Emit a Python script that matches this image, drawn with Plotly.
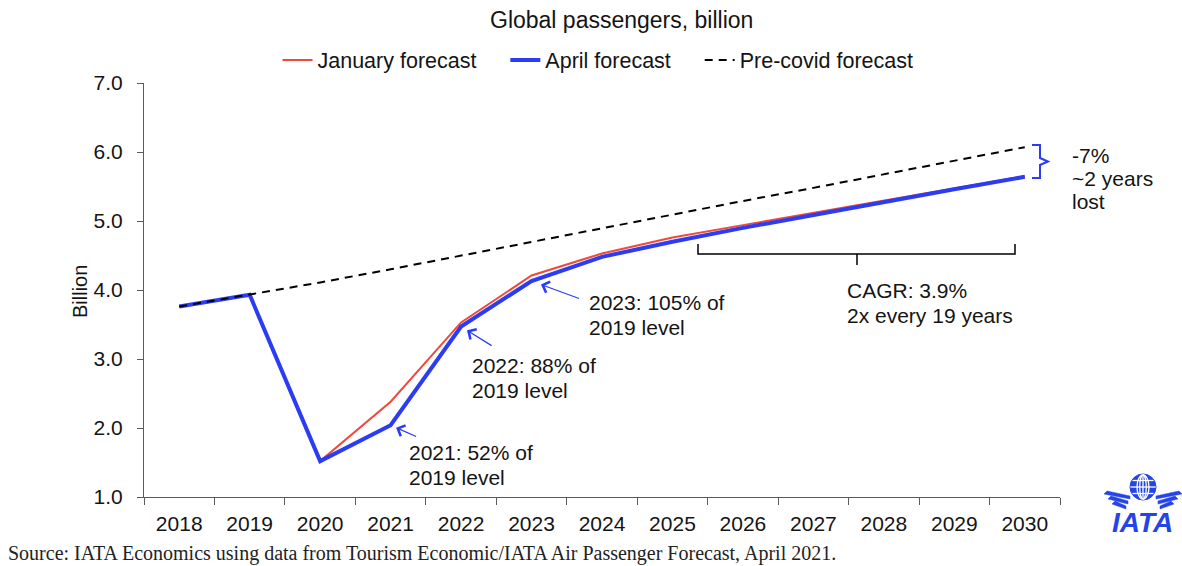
import plotly.graph_objects as go

# ---- data (billions of passengers) ----
years = [str(y) for y in range(2018, 2031)]
january_forecast = [3.76, 3.93, 1.52, 2.38, 3.53, 4.21, 4.53, 4.76, 4.94, 5.12, 5.30, 5.48, 5.65]
april_forecast = [3.76, 3.93, 1.52, 2.04, 3.47, 4.13, 4.48, 4.70, 4.90, 5.09, 5.27, 5.46, 5.64]
precovid_forecast = [3.76, 3.93, 4.11, 4.30, 4.50, 4.69, 4.89, 5.09, 5.29, 5.48, 5.68, 5.87, 6.07]

RED = "#F0483C"
BLUE = "#2B3CF2"
LOGO_BLUE = "#2444E8"
TXT = "#141414"
AX = "#5A5A5A"
FS = 21

W, H = 1182, 566
L, R, T, B = 144, 1060, 83, 497  # plot area in page pixels


def px(x):
    return (x - L) / (R - L)


def py(y):
    return (B - y) / (B - T)


PAD = "\u00a0" * 4  # extra room between legend entries

fig = go.Figure()
fig.add_trace(go.Scatter(x=years, y=january_forecast, name="January forecast" + PAD,
                         mode="lines", line=dict(color=RED, width=2)))
fig.add_trace(go.Scatter(x=years, y=april_forecast, name="April forecast" + PAD,
                         mode="lines", line=dict(color=BLUE, width=4)))
fig.add_trace(go.Scatter(x=years, y=precovid_forecast, name="Pre-covid forecast",
                         mode="lines", line=dict(color="black", width=2, dash="8px,6px")))

ann = []


def text_at(s, x, y, size=FS, anchor="left", **kw):
    ann.append(dict(text=s, xref="paper", yref="paper", x=px(x), y=py(y),
                    xanchor=anchor, yanchor="middle", showarrow=False,
                    font=dict(size=size, **kw.pop("font", {})), **kw))


# title and axis title
text_at("Global passengers, billion", 621, 20, size=23, anchor="center")
text_at("Billion", 80, 292, size=20, anchor="center", textangle=-90)

# callouts pointing at the April forecast line (x given as category index)
callouts = [
    (3, 27, 12, 6, ["2021: 52% of", "2019 level"], 407, [452, 477]),
    (4, 32, 20, 7, ["2022: 88% of", "2019 level"], 470, [365, 390]),
    (5, 49, 18, 10, ["2023: 105% of", "2019 level"], 587, [302, 327]),
]
for idx, axp, ayp, so, lines, tx, tys in callouts:
    ann.append(dict(x=idx, y=april_forecast[idx], xref="x", yref="y", text=" ",
                    font=dict(size=1), showarrow=True, ax=axp, ay=ayp, arrowhead=4,
                    arrowsize=1.9, arrowwidth=1.2, arrowcolor=BLUE, standoff=so))
    for s, ty in zip(lines, tys):
        text_at(s, tx, ty)

for s, ty in zip(["CAGR: 3.9%", "2x every 19 years"], [290, 315]):
    text_at(s, 845, ty)
for s, ty in zip(["-7%", "~2 years", "lost"], [155, 178, 201]):
    text_at(s, 1070, ty)

# source line
text_at("Source: IATA Economics using data from Tourism Economic/IATA Air Passenger Forecast, April 2021.",
        6, 553, size=20, font=dict(family="Liberation Serif, Times New Roman", color="#222"))

# logo lettering
text_at("<b><i>IATA</i></b>", 1142, 522, size=28, anchor="center",
        font=dict(family="Liberation Sans, Arial", color=LOGO_BLUE))


def path(points):
    return "M" + " L".join(f"{px(a):.5f},{py(b):.5f}" for a, b in points)


shapes = []
# CAGR brace
shapes.append(dict(type="path", xref="paper", yref="paper",
                   path=path([(698, 244), (698, 254), (857, 254), (857, 265), (857, 254),
                              (1015, 254), (1015, 244)]),
                   line=dict(color="black", width=1.5)))
# gap brace
shapes.append(dict(type="path", xref="paper", yref="paper",
                   path=path([(1032, 145), (1040, 145), (1040, 158), (1048, 161.5),
                              (1040, 165), (1040, 178), (1032, 178)]),
                   line=dict(color=BLUE, width=2)))

# logo globe
gx, gy, gr = 1143, 487, 13
shapes.append(dict(type="circle", xref="paper", yref="paper",
                   x0=px(gx - gr), x1=px(gx + gr), y0=py(gy + gr), y1=py(gy - gr),
                   fillcolor=LOGO_BLUE, line=dict(color=LOGO_BLUE, width=1)))
for w in (6.5, 12):
    shapes.append(dict(type="circle", xref="paper", yref="paper",
                       x0=px(gx - w / 2), x1=px(gx + w / 2),
                       y0=py(gy + gr - 1), y1=py(gy - gr + 1),
                       line=dict(color="white", width=1.3)))
shapes.append(dict(type="line", xref="paper", yref="paper",
                   x0=px(gx), x1=px(gx), y0=py(gy + gr - 1), y1=py(gy - gr + 1),
                   line=dict(color="white", width=1.3)))
for dy, half in ((-6.5, 10.5), (0, 12.6), (6.5, 10.5)):
    shapes.append(dict(type="line", xref="paper", yref="paper",
                       x0=px(gx - half), x1=px(gx + half), y0=py(gy + dy), y1=py(gy + dy),
                       line=dict(color="white", width=1.3)))
# logo wings
for k in range(3):
    for s in (-1, 1):
        outer = gx + s * (36 - 4 * k)
        inner = gx + s * (13 + 2 * k)
        shapes.append(dict(type="path", xref="paper", yref="paper",
                           path=path([(outer, 491 + 5 * k), (inner, 496 + 5 * k),
                                      (inner, 499 + 5 * k), (outer + s * 3, 494 + 5 * k)]) + " Z",
                           fillcolor=LOGO_BLUE, line=dict(color=LOGO_BLUE, width=0.5)))

fig.update_layout(
    width=W, height=H,
    margin=dict(l=L, r=W - R, t=T, b=H - B, autoexpand=False),
    paper_bgcolor="white", plot_bgcolor="white",
    font=dict(family="Liberation Sans, Arial, sans-serif", size=FS, color=TXT),
    showlegend=True,
    legend=dict(orientation="h", xref="paper", yref="paper", x=px(598), xanchor="center",
                y=py(60), yanchor="middle", font=dict(size=21.5), bgcolor="rgba(0,0,0,0)",
                itemwidth=30, traceorder="normal"),
    annotations=ann,
    shapes=shapes,
    xaxis=dict(type="category", range=[-0.5, 12.5], tickson="boundaries",
               ticks="outside", ticklen=7, tickcolor=AX, showline=True, linecolor=AX,
               linewidth=1, showgrid=False, zeroline=False, tickfont=dict(size=FS),
               ticklabelstandoff=8, fixedrange=True),
    yaxis=dict(range=[1, 7], dtick=1, tick0=1, tickformat=".1f", ticks="outside",
               ticklen=6, tickcolor=AX, showline=True, linecolor=AX, linewidth=1,
               showgrid=False, zeroline=False, tickfont=dict(size=FS),
               ticklabelstandoff=10, fixedrange=True),
)

fig.write_html("out.html")
